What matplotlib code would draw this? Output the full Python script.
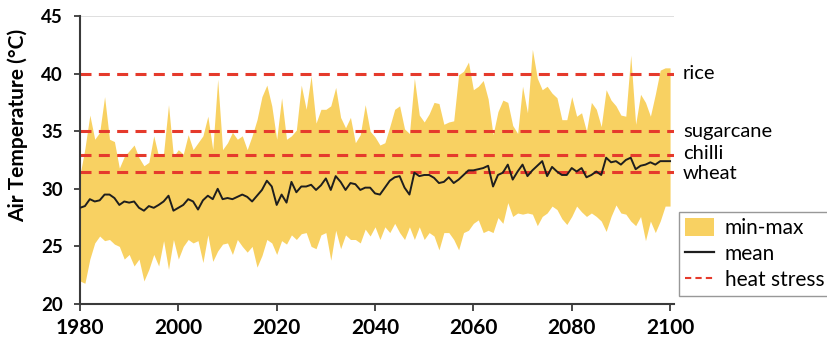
import numpy as np
import matplotlib
matplotlib.use("Agg")
import matplotlib.pyplot as plt
from matplotlib.patches import Patch
from matplotlib.lines import Line2D

plt.rcParams['font.family'] = ['Lato', 'DejaVu Sans']

years = np.arange(1980, 2101)

t_max = [
    31.2, 33.5, 36.4, 34.3, 34.9, 38.0, 34.3, 34.1, 31.8, 32.8,
    33.3, 33.8, 32.7, 32.0, 32.3, 34.6, 32.8, 33.1, 37.3, 32.8,
    33.4, 33.0, 34.7, 33.4, 34.0, 34.6, 36.3, 33.4, 39.5, 33.4,
    34.0, 34.9, 34.3, 34.6, 33.4, 34.6, 36.0, 38.0, 39.0, 37.2,
    34.3, 37.9, 34.3, 34.6, 35.1, 39.0, 36.9, 39.8, 35.7, 36.9,
    36.9, 37.2, 38.8, 36.2, 35.3, 36.2, 34.0, 34.7, 37.3, 35.0,
    34.5, 33.8, 34.0, 35.4, 36.9, 37.2, 35.2, 34.8, 39.6, 36.4,
    35.8, 36.5, 37.5, 37.4, 35.6, 35.8, 35.9, 39.9, 40.2, 41.0,
    38.6, 38.9, 39.4, 37.8, 34.7, 36.7, 37.7, 37.5, 35.5, 34.8,
    38.9, 36.6, 42.1, 39.6, 38.6, 38.9, 38.3, 37.9, 36.0, 36.0,
    38.0, 36.3, 36.6, 35.0, 37.5, 36.9, 35.4, 38.6, 37.7, 37.2,
    36.4, 36.3, 41.6, 35.6, 38.2, 37.5, 36.3, 38.2, 40.3, 40.5,
    40.5,
]

t_min = [
    22.0, 21.8, 23.9, 25.3, 25.9, 25.5, 25.6, 25.2, 25.0, 23.9,
    24.3, 23.3, 23.9, 22.0, 23.0, 24.3, 23.3, 25.5, 23.0, 25.6,
    23.9, 25.0, 25.6, 25.3, 25.5, 23.6, 26.0, 23.7, 24.6, 25.2,
    25.3, 24.3, 25.6, 25.0, 24.5, 25.0, 23.2, 24.2, 25.6, 25.3,
    24.3, 25.5, 25.2, 26.0, 25.6, 26.1, 26.2, 25.0, 24.8, 26.0,
    26.2, 23.8, 26.4, 24.8, 26.0, 25.6, 25.6, 25.3, 26.5, 25.9,
    26.7, 25.6, 26.7, 26.2, 27.0, 26.2, 25.6, 26.7, 25.6, 26.7,
    25.6, 26.2, 25.9, 24.7, 26.2, 26.2, 25.6, 24.7, 26.2, 26.4,
    27.0, 27.3, 26.2, 26.4, 26.2, 27.5, 27.0, 28.8, 27.6, 27.9,
    27.8, 27.9, 27.8, 26.8, 27.6, 27.9, 28.5, 28.2, 27.4, 26.9,
    27.6, 28.5, 28.0, 27.6, 27.9, 27.6, 27.2, 26.3, 27.6, 28.6,
    27.9, 27.8, 27.2, 26.8, 27.6, 25.5, 27.2, 26.2, 27.2, 28.5,
    28.5,
]

t_mean = [
    28.35, 28.5, 29.1, 28.9, 29.0, 29.5, 29.5, 29.2, 28.6, 28.9,
    28.8, 28.9, 28.35, 28.1, 28.5, 28.35, 28.6, 28.9, 29.4, 28.1,
    28.35, 28.6, 29.1, 28.9, 28.2, 29.0, 29.4, 29.1, 30.0, 29.1,
    29.2, 29.1, 29.3, 29.5, 29.3, 28.9, 29.4, 29.9, 30.7, 30.2,
    28.6, 29.5, 28.8, 30.6, 29.7, 30.2, 30.2, 30.35, 29.9, 30.3,
    30.9, 29.9, 31.1, 30.6, 29.9, 30.5, 30.4, 29.9, 30.1, 30.1,
    29.6, 29.5, 30.1, 30.7, 31.0, 31.1, 30.1, 29.5, 31.4, 31.1,
    31.2, 31.2, 30.95, 30.5, 30.6, 31.0, 30.5, 30.8, 31.2, 31.6,
    31.6, 31.7, 31.8, 32.0, 30.2, 31.2, 31.4, 32.1, 30.8, 31.5,
    32.1, 31.1, 31.6, 32.0, 32.4, 31.1, 31.9, 31.5, 31.2, 31.2,
    31.8, 31.5, 31.8, 31.0, 31.2, 31.5, 31.2, 32.7, 32.3, 32.4,
    32.1, 32.5, 32.7, 31.7, 32.0, 32.1, 32.3, 32.1, 32.4, 32.4,
    32.4,
]

crops = ['rice', 'sugarcane', 'chilli', 'wheat']
thresholds = [40.0, 35.0, 32.9, 31.5]
label_nudge = [0, 0, 0.15, -0.15]   # keep chilli / wheat labels apart

fill_color = '#F8D162'
red = '#E53A2C'
spine_color = '#3A3A3A'

fig = plt.figure(figsize=(8.27, 3.46), dpi=100)
W, H = 827, 346
ax = fig.add_axes([80 / W, 1 - 304 / H, (674 - 80) / W, (304 - 16) / H])

ax.fill_between(years, t_min, t_max, color=fill_color, linewidth=0, zorder=1)
ax.plot(years, t_mean, color='#1E1E1E', lw=1.4, zorder=3)
for c, t, dy in zip(crops, thresholds, label_nudge):
    ax.axhline(t, color=red, lw=2.2, linestyle=(0, (3.6, 2.4)), zorder=2)
    ax.text(2102.6, t + dy, c, fontsize=14.5, va='center', ha='left', clip_on=False)

ax.axhline(45, color='#D9D9D9', lw=1.2, zorder=0)

ax.set_xlim(1980, 2100.8)
ax.set_ylim(20, 45)
ax.set_xticks(np.arange(1980, 2101, 20))
ax.set_yticks(np.arange(20, 46, 5))

for s in ['top', 'right']:
    ax.spines[s].set_visible(False)
for s in ['left', 'bottom']:
    ax.spines[s].set_color(spine_color)
    ax.spines[s].set_linewidth(1.5)

ax.tick_params(axis='y', direction='out', length=4.5, width=1.3, color=spine_color, pad=8,
               labelsize=13.5)
ax.tick_params(axis='x', direction='out', length=5, width=1.3, color=spine_color, pad=5,
               labelsize=15)
for lab in ax.get_xticklabels() + ax.get_yticklabels():
    lab.set_fontweight('bold')

fig.text(18 / W, 1 - 125 / H, 'Air Temperature (°C)', rotation=90, fontsize=15,
         fontweight='bold', ha='center', va='center')

handles = [
    Patch(facecolor=fill_color, edgecolor='none', label='min-max'),
    Line2D([], [], color='#1E1E1E', lw=1.6, label='mean'),
    Line2D([], [], color=red, lw=1.5, linestyle=(0, (3, 2)), label='heat stress'),
]
leg = fig.legend(handles=handles, loc='upper left', bbox_to_anchor=(679 / W, 1 - 212 / H),
                 fontsize=15, frameon=True, fancybox=False, handlelength=1.4,
                 handleheight=0.9, handletextpad=0.5, borderpad=0.3, labelspacing=0.27,
                 borderaxespad=0)
leg.get_frame().set_edgecolor('#7F7F7F')
leg.get_frame().set_linewidth(1.0)

fig.savefig('out.png', dpi=100)
